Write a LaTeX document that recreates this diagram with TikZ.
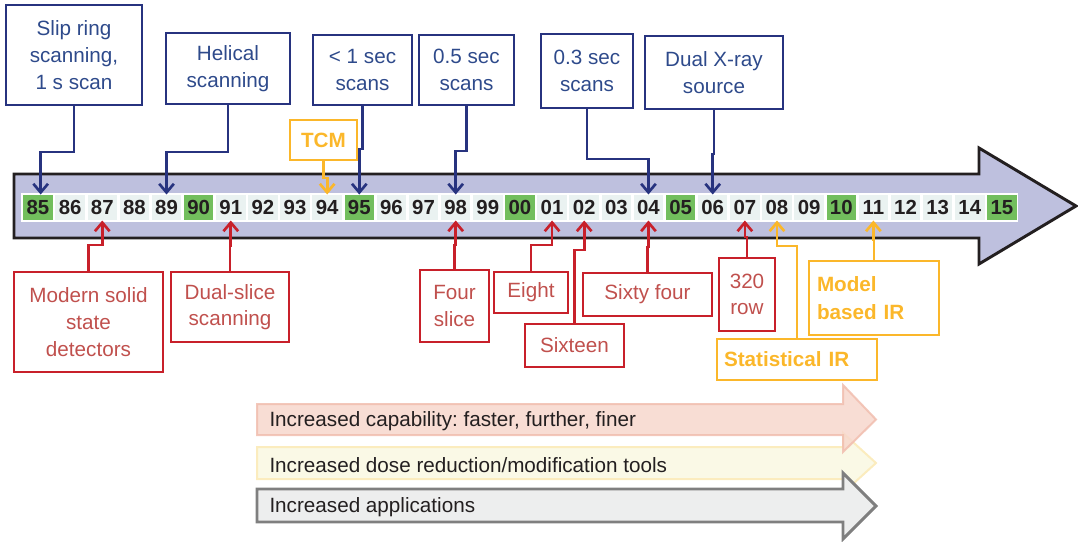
\documentclass[tikz,border=0pt]{standalone}
\usepackage{fontspec}
\setmainfont{Liberation Sans}
\usetikzlibrary{arrows.meta}
\frenchspacing

\definecolor{navy}{RGB}{39,51,127}
\definecolor{navytext}{RGB}{46,74,139}
\definecolor{ctred}{RGB}{200,32,42}
\definecolor{ctredtext}{RGB}{192,80,77}
\definecolor{gold}{RGB}{251,183,42}
\definecolor{lavender}{RGB}{190,192,222}
\definecolor{cellgreen}{RGB}{114,190,93}
\definecolor{cellpale}{RGB}{234,242,241}
\definecolor{salmon}{RGB}{247,215,204}
\definecolor{salmonline}{RGB}{241,190,175}
\definecolor{cream}{RGB}{250,249,230}
\definecolor{creamline}{RGB}{251,236,190}
\definecolor{greyfill}{RGB}{237,238,238}
\definecolor{greyline}{RGB}{127,127,127}
\definecolor{ink}{RGB}{35,31,32}

\tikzset{every picture/.style={line width=0.75pt}}
\tikzset{
box/.style={draw, line width=1.5pt, inner sep=0pt, align=center, font=\fontsize{15.5}{20}\selectfont},
bluebox/.style={box, draw=navy, text=navytext},
redbox/.style={box, draw=ctred, text=ctredtext},
goldbox/.style={box, draw=gold, text=gold, font=\fontsize{15.5}{21}\selectfont\bfseries},
cell/.style={minimum width=22.1pt, minimum height=18.75pt, inner sep=0pt, text=ink, font=\fontsize{15.3}{15}\selectfont\bfseries},
link/.style={line width=2pt, -{Straight Barb[length=6.5pt,width=11pt]}},
bluelink/.style={link, draw=navy},
redlink/.style={link, draw=ctred},
goldlink/.style={link, draw=gold},
trendtext/.style={anchor=west, inner sep=0pt, text=ink, font=\fontsize{15.5}{18}\selectfont}
}

\begin{document}
\begin{tikzpicture}[x=0.75pt,y=0.75pt,yscale=-1,xscale=1]
\useasboundingbox (0,0) rectangle (1078,542);

% main time arrow
\draw [line width=2.2pt, draw=ink, fill=lavender] (14,174) -- (979,174) -- (979,148) -- (1076,206) -- (979,264) -- (979,238) -- (14,238) -- cycle ;
\fill [white] (21,193) rectangle (1018,222) ;

% year cells
\foreach \yr [count=\i from 0] in {85,86,87,88,89,90,91,92,93,94,95,96,97,98,99,00,01,02,03,04,05,06,07,08,09,10,11,12,13,14,15}{
  \pgfmathtruncatemacro\r{mod(\i,5)}
  \ifnum\r=0 \def\cf{cellgreen}\else\def\cf{cellpale}\fi
  \node [cell, fill=\cf] (c\yr) at (38+32.13*\i,207.5) {\yr};
}

% blue milestones
\node [bluebox, minimum width=102pt, minimum height=75pt] (slip) at (74,55) {Slip ring\\scanning,\\1 s scan};
\node [bluebox, minimum width=93pt, minimum height=53.25pt] (helical) at (228,68.5) {Helical\\scanning};
\node [bluebox, minimum width=74.25pt, minimum height=52.5pt] (subsec) at (362.5,70) {< 1 sec\\scans};
\node [bluebox, minimum width=71.25pt, minimum height=52.5pt] (halfsec) at (466.5,70) {0.5 sec\\scans};
\node [bluebox, minimum width=69pt, minimum height=55.5pt] (thirdsec) at (587,71) {0.3 sec\\scans};
\node [bluebox, minimum width=103.5pt, minimum height=54.75pt] (dualsrc) at (714,72.5) {Dual X-ray\\source};

\draw [bluelink] (slip.south) -- ++(0,46) -| ([xshift=2pt]c85.north) ;
\draw [bluelink] (helical.south) -- ++(0,47) -| (c89.north) ;
\draw [bluelink] (subsec.south) -- ++(0,43) -| (c95.north) ;
\draw [bluelink] (halfsec.south) -- ++(0,45) -| (c98.north) ;
\draw [bluelink] (thirdsec.south) -- ++(0,50) -| (c04.north) ;
\draw [bluelink] (dualsrc.south) -- ++(0,44) -| (c06.north) ;

% TCM
\node [goldbox, minimum width=50.25pt, minimum height=30pt] (tcm) at (323.5,140) {TCM};
\draw [goldlink] (tcm.south) -- ++(0,17) -| (c94.north) ;

% red milestones
\node [redbox, minimum width=111.75pt, minimum height=75pt] (solid) at (88.5,322) {Modern solid\\state\\detectors};
\node [redbox, minimum width=88.5pt, minimum height=52.5pt] (dualslice) at (230,307) {Dual-slice\\scanning};
\node [redbox, minimum width=51.75pt, minimum height=54pt] (four) at (454.5,306) {Four\\slice};
\node [redbox, minimum width=55.5pt, minimum height=30.75pt] (eight) at (531,292.5) {Eight};
\node [redbox, minimum width=74.25pt, minimum height=32.25pt] (sixteen) at (574.5,345.5) {Sixteen};
\node [redbox, minimum width=96.75pt, minimum height=32.25pt] (sixtyfour) at (647.5,294.5) {Sixty four};
\node [redbox, minimum width=42pt, minimum height=54.75pt] (row) at (747,294.5) {320\\row};

\draw [redlink] (solid.north) -- ++(0,-26) -| (c87.south) ;
\draw [redlink] (dualslice.north) -- ++(0,-25) -| (c91.south) ;
\draw [redlink] (four.north) -- ++(0,-24) -| (c98.south) ;
\draw [redlink] (eight.north) -- ++(0,-26) -| (c01.south) ;
\draw [redlink] (sixteen.north) -- ++(0,-73) -| (c02.south) ;
\draw [redlink] (sixtyfour.north) -- ++(0,-25) -| (c04.south) ;
\draw [redlink] (row.north) -- ++(0,-20) -| (c07.south) ;

% iterative reconstruction
\node [goldbox, align=left, text width=109.5pt, inner xsep=5.25pt, minimum height=30.75pt] (statir) at (797,359.5) {Statistical IR};
\node [goldbox, align=left, text width=85.5pt, inner xsep=6pt, minimum height=55.5pt] (modelir) at (874,298) {Model\\based IR};
\draw [goldlink] (statir.north) -- ++(0,-92) -| (c08.south) ;
\draw [goldlink] (modelir.north) -- ++(0,-20) -| (c11.south) ;

% trend arrows
\draw [line width=1.5pt, draw=creamline, fill=cream] (257,447) -- (843,447) -- (843,433) -- (876,463) -- (843,493) -- (843,479) -- (257,479) -- cycle ;
\draw [line width=1.5pt, draw=salmonline, fill=salmon, opacity=0.85] (257,404) -- (843,404) -- (843,385) -- (876,419.5) -- (843,452) -- (843,435) -- (257,435) -- cycle ;
\draw [line width=2.2pt, draw=greyline, fill=greyfill] (257,489) -- (843,489) -- (843,473) -- (876,506) -- (843,539) -- (843,522) -- (257,522) -- cycle ;
\node [trendtext] (capability) at (269,421.5) {Increased capability: faster, further, finer};
\node [trendtext] (dose) at (269,465) {Increased dose reduction/modification tools};
\node [trendtext] (applications) at (269,507.5) {Increased applications};

\end{tikzpicture}
\end{document}
